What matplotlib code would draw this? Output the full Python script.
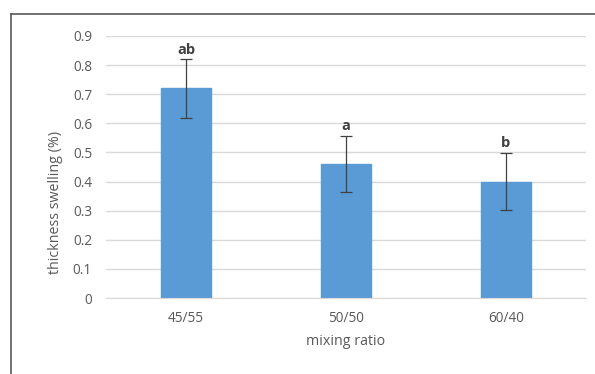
import matplotlib
matplotlib.use("Agg")
import matplotlib.pyplot as plt
from matplotlib.lines import Line2D

categories = ["45/55", "50/50", "60/40"]
swelling = [0.72, 0.46, 0.40]
errors = [0.10, 0.097, 0.098]
letters = ["ab", "a", "b"]
yticks = [0, 0.1, 0.2, 0.3, 0.4, 0.5, 0.6, 0.7, 0.8, 0.9]

plt.rcParams["font.family"] = ["Open Sans", "DejaVu Sans"]

fig = plt.figure(figsize=(5.95, 3.74), dpi=100)
W, H = 595, 374
ax = fig.add_axes([106 / W, 1 - 298 / H, 480 / W, (298 - 36) / H])

x = list(range(len(categories)))
ax.bar(x, swelling, width=0.31, color="#5b9bd5", edgecolor="#5b9bd5", zorder=2)
ax.errorbar(x, swelling, yerr=errors, fmt="none", ecolor="#404040",
            elinewidth=0.9, capsize=4, capthick=0.9, zorder=3)
for xi, v, e, t in zip(x, swelling, errors, letters):
    ax.annotate(t, (xi, v + e), xytext=(0, 2), textcoords="offset points",
                ha="center", va="bottom", fontsize=10.5, fontweight="bold",
                color="#404040")

ax.set_xlim(-0.5, len(categories) - 0.5)
ax.set_ylim(0, 0.9)
ax.set_yticks(yticks)
ax.set_yticklabels([f"{t:g}" for t in yticks])
ax.set_xticks(x)
ax.set_xticklabels(categories)
ax.tick_params(axis="both", length=0, labelsize=9.8, colors="#595959")
ax.tick_params(axis="y", pad=10)
ax.tick_params(axis="x", pad=9)
ax.grid(axis="y", color="#d9d9d9", linewidth=1, zorder=0)
for s in ["top", "right", "left"]:
    ax.spines[s].set_visible(False)
ax.spines["bottom"].set_color("#d9d9d9")

ax.set_xlabel("mixing ratio", fontsize=10.3, color="#595959", labelpad=6)
fig.text(56 / W, 1 - 203 / H, "thickness swelling (%)", rotation=90,
         ha="center", va="center", fontsize=10.3, color="#595959")

# outer frame of the chart area
fig.add_artist(Line2D([11 / W, 11 / W], [0, 1 - 14 / H], transform=fig.transFigure,
                      color="#595959", linewidth=1.2))
fig.add_artist(Line2D([11 / W, 1], [1 - 14 / H, 1 - 14 / H], transform=fig.transFigure,
                      color="#595959", linewidth=1.2))

fig.savefig("out.png", dpi=100)
